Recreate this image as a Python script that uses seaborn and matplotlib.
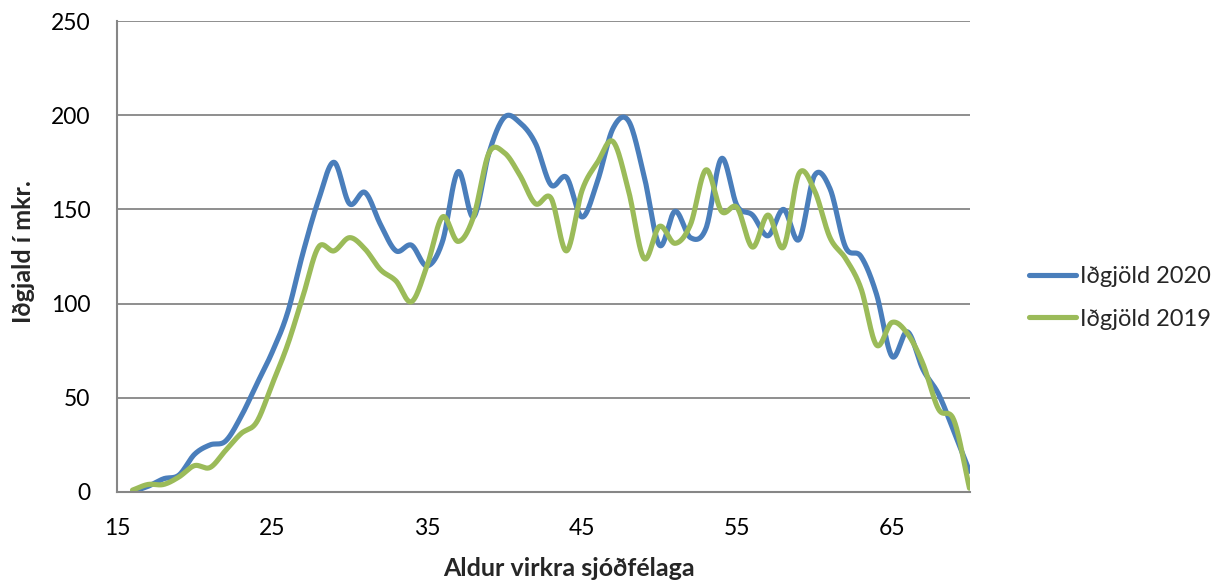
import numpy as np
import pandas as pd
import matplotlib
matplotlib.use("Agg")
import matplotlib.pyplot as plt
import seaborn as sns

# ── Data ──
aldur = list(range(16, 71))
idgjold_2020 = [0, 3, 7, 9, 20, 25, 27, 40, 57, 74,
                95, 127, 155, 175, 153, 159, 142, 128, 131, 120,
                133, 170, 146, 180, 199, 196, 185, 163, 167, 146,
                165, 193, 197, 168, 131, 149, 135, 140, 177, 152,
                147, 136, 150, 134, 168, 161, 130, 125, 105, 72,
                85, 65, 52, 32, 11]
idgjold_2019 = [1, 4, 4, 8, 14, 13, 22, 31, 37, 57,
                78, 104, 130, 128, 135, 129, 118, 112, 101, 120,
                146, 133, 146, 180, 180, 168, 153, 156, 128, 160,
                175, 186, 160, 124, 141, 132, 142, 171, 149, 151,
                130, 147, 130, 169, 160, 135, 124, 108, 78, 90,
                84, 68, 44, 38, 2]
reeksir = ["Iðgjöld 2020", "Iðgjöld 2019"]
litir = ["#4a7ebb", "#9bbb59"]


def smooth(x, y, n=24):
    # Excel-like smoothed line (Catmull-Rom)
    x = np.asarray(x, float)
    y = np.asarray(y, float)
    px = np.concatenate([[2 * x[0] - x[1]], x, [2 * x[-1] - x[-2]]])
    py = np.concatenate([[2 * y[0] - y[1]], y, [2 * y[-1] - y[-2]]])
    xs, ys = [], []
    t = np.linspace(0, 1, n, endpoint=False)
    for i in range(1, len(px) - 2):
        for p, out in ((px, xs), (py, ys)):
            p0, p1, p2, p3 = p[i - 1], p[i], p[i + 1], p[i + 2]
            out.append(0.5 * (2 * p1 + (-p0 + p2) * t
                              + (2 * p0 - 5 * p1 + 4 * p2 - p3) * t ** 2
                              + (-p0 + 3 * p1 - 3 * p2 + p3) * t ** 3))
    xs.append([x[-1]])
    ys.append([y[-1]])
    return np.concatenate(xs), np.concatenate(ys)


frames = []
for nafn, gildi in zip(reeksir, [idgjold_2020, idgjold_2019]):
    sx, sy = smooth(aldur, gildi)
    frames.append(pd.DataFrame({"aldur": sx, "idgjald": sy, "reeks": nafn}))
df = pd.concat(frames, ignore_index=True)

sns.set_theme(style="white")
plt.rcParams["font.family"] = ["Lato", "DejaVu Sans"]

fig = plt.figure(figsize=(12.25, 5.82), dpi=100)
ax = fig.add_axes([117 / 1225, 1 - 492 / 582, (969.5 - 117) / 1225, (492 - 21) / 582])

sns.lineplot(data=df, x="aldur", y="idgjald", hue="reeks", hue_order=reeksir,
             palette=litir, linewidth=3.7, sort=False, estimator=None, ax=ax,
             legend=False)

grar = "#868686"
ax.set_xlim(15, 70)
ax.set_ylim(0, 250)
ax.set_xticks([15, 25, 35, 45, 55, 65])
ax.set_yticks([0, 50, 100, 150, 200, 250])
ax.yaxis.grid(True, color=grar, linewidth=1.3)
ax.set_axisbelow(True)
for s in ["top", "right"]:
    ax.spines[s].set_visible(False)
for s in ["left", "bottom"]:
    ax.spines[s].set_color(grar)
    ax.spines[s].set_linewidth(1.5)
ax.tick_params(axis="both", colors=grar, labelcolor="black", labelsize=16.5,
               length=7, width=1.5, direction="out")
ax.tick_params(axis="x", pad=12)
ax.tick_params(axis="y", pad=12)

# axis titles placed where Excel puts them (centred on the whole chart area)
ax.set_xlabel("Aldur virkra sjóðfélaga", fontsize=18, fontweight="bold", va="center")
ax.xaxis.set_label_coords((569 - 117) / 852.5, (492 - 568) / 471)
ax.set_ylabel("Iðgjald í mkr.", fontsize=18, fontweight="bold", va="center")
ax.yaxis.set_label_coords((24 - 117) / 852.5, (492 - 252) / 471)

handles = [plt.Line2D([], [], color=c, linewidth=3.7, solid_capstyle="round") for c in litir]
fig.legend(handles, reeksir, loc="center left", bbox_to_anchor=(1008 / 1225, 1 - 298 / 582),
           frameon=False, fontsize=17, handlelength=2.0, handletextpad=0.15,
           labelspacing=0.9)

fig.savefig("out.png", dpi=100)
